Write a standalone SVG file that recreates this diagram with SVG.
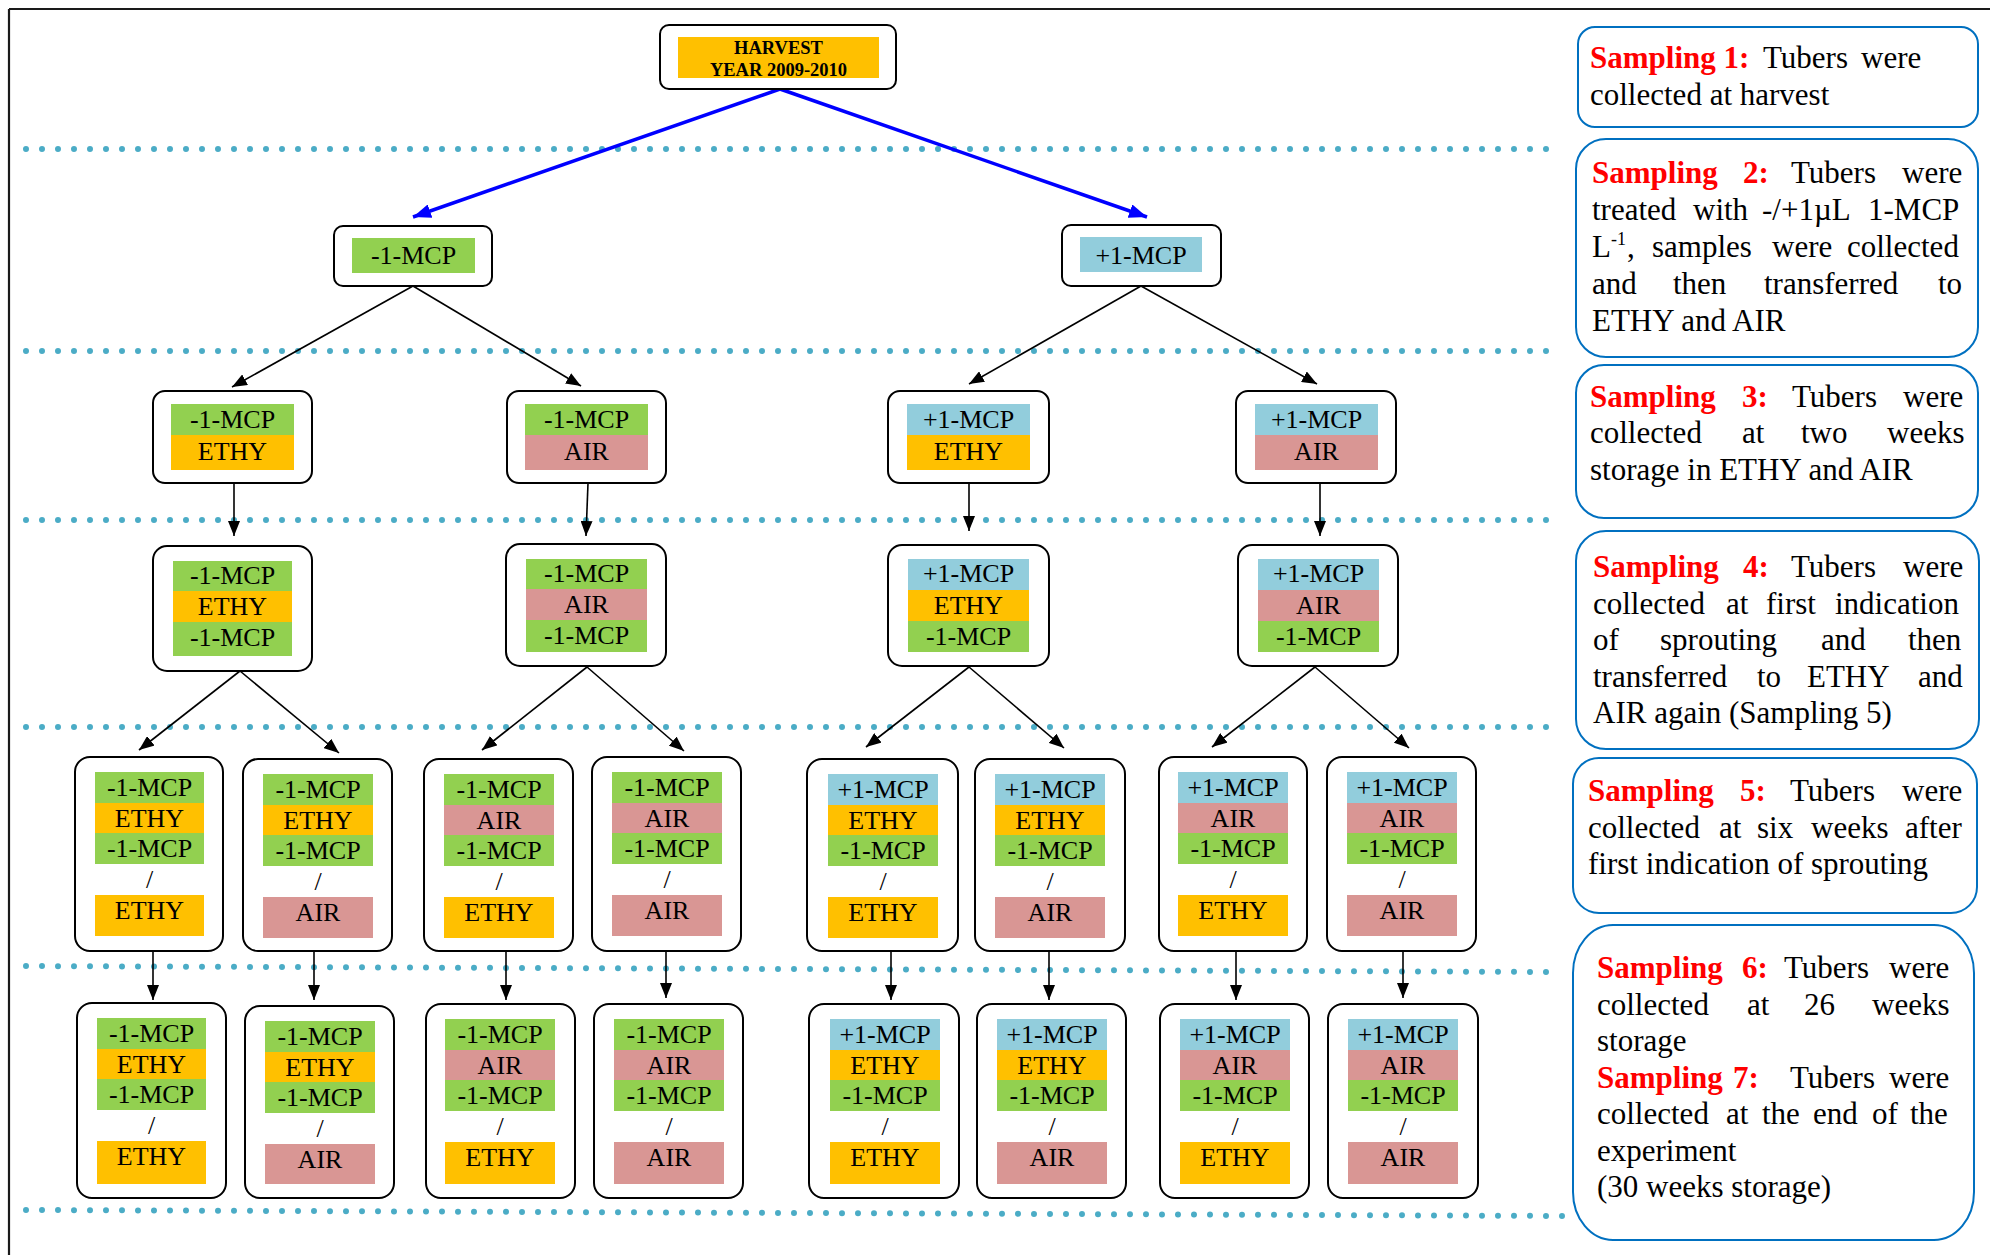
<svg xmlns="http://www.w3.org/2000/svg" width="1990" height="1255" viewBox="0 0 1990 1255">
<style>
.bx{fill:#fff;stroke:#000;stroke-width:2}
.g{fill:#92D050}.o{fill:#FFC000}.p{fill:#D99694}.b{fill:#92CDDC}
.t{font-family:"Liberation Serif","Times New Roman",serif;font-size:26px;text-anchor:middle;fill:#000}
.h{font-family:"Liberation Serif","Times New Roman",serif;font-size:18.5px;font-weight:bold;text-anchor:middle;fill:#000}
.dot{stroke:#4BACC6;stroke-width:6;stroke-linecap:round;stroke-dasharray:0 16;fill:none}
.ar{stroke:#000;stroke-width:1.6;fill:none;marker-end:url(#ah)}
.arb{stroke:#0000FF;stroke-width:3.5;fill:none;marker-end:url(#ahb)}
.sb{fill:#fff;stroke:#0070C0;stroke-width:2}
.s{font-family:"Liberation Serif","Times New Roman",serif;font-size:31px;fill:#000}
.r{fill:#FF0000;font-weight:bold}
</style>
<defs>
<marker id="ah" markerUnits="userSpaceOnUse" markerWidth="15" markerHeight="12" refX="15" refY="6" orient="auto"><path d="M0,0 L15,6 L0,12 z" fill="#000"/></marker>
<marker id="ahb" markerUnits="userSpaceOnUse" markerWidth="18" markerHeight="14" refX="18" refY="7" orient="auto"><path d="M0,0 L18,7 L0,14 z" fill="#0000FF"/></marker>
</defs>
<rect width="1990" height="1255" fill="#fff"/>
<g id="frame" stroke="#1a1a1a" stroke-width="2.2" fill="none">
<line x1="9" y1="9" x2="1990" y2="9"/>
<line x1="9" y1="9" x2="9" y2="1255"/>
</g>
<g id="dotted-lines">
<line class="dot" x1="26" y1="149" x2="1547" y2="149"/>
<line class="dot" x1="26" y1="351" x2="1547" y2="351"/>
<line class="dot" x1="26" y1="520" x2="1547" y2="520"/>
<line class="dot" x1="26" y1="727" x2="1547" y2="727"/>
<line class="dot" x1="26" y1="966" x2="1547" y2="972"/>
<line class="dot" x1="26" y1="1210" x2="1563" y2="1216"/>
</g>
<g id="connectors">
<line class="arb" x1="780" y1="89" x2="413" y2="217"/>
<line class="arb" x1="780" y1="89" x2="1147" y2="217"/>
<line class="ar" x1="413" y1="286" x2="232" y2="387"/>
<line class="ar" x1="413" y1="286" x2="581" y2="386"/>
<line class="ar" x1="1141" y1="286" x2="969" y2="384"/>
<line class="ar" x1="1141" y1="286" x2="1317" y2="384"/>
<line class="ar" x1="234" y1="483" x2="234" y2="536"/>
<line class="ar" x1="588" y1="483" x2="586" y2="536"/>
<line class="ar" x1="969" y1="483" x2="969" y2="531"/>
<line class="ar" x1="1320" y1="483" x2="1320" y2="536"/>
<line class="ar" x1="240" y1="671" x2="139" y2="750"/>
<line class="ar" x1="240" y1="671" x2="339" y2="753"/>
<line class="ar" x1="587" y1="667" x2="482" y2="750"/>
<line class="ar" x1="587" y1="667" x2="684" y2="751"/>
<line class="ar" x1="969" y1="667" x2="866" y2="747"/>
<line class="ar" x1="969" y1="667" x2="1064" y2="748"/>
<line class="ar" x1="1315" y1="667" x2="1212" y2="747"/>
<line class="ar" x1="1315" y1="667" x2="1409" y2="748"/>
<line class="ar" x1="153" y1="951" x2="153" y2="1000"/>
<line class="ar" x1="314" y1="951" x2="314" y2="1000"/>
<line class="ar" x1="506" y1="951" x2="506" y2="1000"/>
<line class="ar" x1="666" y1="951" x2="666" y2="998"/>
<line class="ar" x1="891" y1="951" x2="891" y2="1000"/>
<line class="ar" x1="1049" y1="951" x2="1049" y2="1000"/>
<line class="ar" x1="1236" y1="951" x2="1236" y2="1000"/>
<line class="ar" x1="1403" y1="951" x2="1403" y2="998"/>
</g>
<g id="n-harvest">
<rect class="bx" x="660" y="25" width="236" height="64" rx="9"/>
<rect class="o" x="678" y="37" width="201" height="41"/>
<text class="h" x="778.5" y="54">HARVEST</text>
<text class="h" x="778.5" y="76">YEAR 2009-2010</text>
</g>
<g id="n-minus">
<rect class="bx" x="334" y="226" width="158" height="60" rx="9"/>
<rect class="g" x="352" y="238" width="123" height="35"/>
<text class="t" x="413.5" y="264">-1-MCP</text>
</g>
<g id="n-plus">
<rect class="bx" x="1062" y="225" width="159" height="61" rx="9"/>
<rect class="b" x="1080" y="237" width="122" height="35"/>
<text class="t" x="1141" y="264">+1-MCP</text>
</g>
<g id="n2-a">
<rect class="bx" x="153" y="391" width="159" height="92" rx="12"/>
<rect class="g" x="171" y="404" width="123" height="31"/><rect class="o" x="171" y="435" width="123" height="35"/>
<text class="t" x="232.5" y="428">-1-MCP</text><text class="t" x="232.5" y="460">ETHY</text>
</g>
<g id="n2-b">
<rect class="bx" x="507" y="391" width="159" height="92" rx="12"/>
<rect class="g" x="525" y="404" width="123" height="31"/><rect class="p" x="525" y="435" width="123" height="35"/>
<text class="t" x="586.5" y="428">-1-MCP</text><text class="t" x="586.5" y="460">AIR</text>
</g>
<g id="n2-c">
<rect class="bx" x="888" y="391" width="161" height="92" rx="12"/>
<rect class="b" x="907" y="404" width="123" height="31"/><rect class="o" x="907" y="435" width="123" height="35"/>
<text class="t" x="968.5" y="428">+1-MCP</text><text class="t" x="968.5" y="460">ETHY</text>
</g>
<g id="n2-d">
<rect class="bx" x="1236" y="391" width="160" height="92" rx="12"/>
<rect class="b" x="1255" y="404" width="123" height="31"/><rect class="p" x="1255" y="435" width="123" height="35"/>
<text class="t" x="1316.5" y="428">+1-MCP</text><text class="t" x="1316.5" y="460">AIR</text>
</g>
<g id="n3-a">
<rect class="bx" x="153" y="546" width="159" height="125" rx="14"/>
<rect class="g" x="173" y="561" width="119" height="30"/><rect class="o" x="173" y="591" width="119" height="31"/><rect class="g" x="173" y="622" width="119" height="34"/>
<text class="t" x="232.5" y="584">-1-MCP</text><text class="t" x="232.5" y="615">ETHY</text><text class="t" x="232.5" y="646">-1-MCP</text>
</g>
<g id="n3-b">
<rect class="bx" x="506" y="544" width="160" height="122" rx="14"/>
<rect class="g" x="526" y="559" width="121" height="30"/><rect class="p" x="526" y="589" width="121" height="31"/><rect class="g" x="526" y="620" width="121" height="32"/>
<text class="t" x="586.5" y="582">-1-MCP</text><text class="t" x="586.5" y="613">AIR</text><text class="t" x="586.5" y="644">-1-MCP</text>
</g>
<g id="n3-c">
<rect class="bx" x="888" y="545" width="161" height="121" rx="14"/>
<rect class="b" x="908" y="559" width="121" height="31"/><rect class="o" x="908" y="590" width="121" height="31"/><rect class="g" x="908" y="621" width="121" height="31"/>
<text class="t" x="968.5" y="582">+1-MCP</text><text class="t" x="968.5" y="614">ETHY</text><text class="t" x="968.5" y="645">-1-MCP</text>
</g>
<g id="n3-d">
<rect class="bx" x="1238" y="545" width="160" height="121" rx="14"/>
<rect class="b" x="1258" y="559" width="121" height="31"/><rect class="p" x="1258" y="590" width="121" height="31"/><rect class="g" x="1258" y="621" width="121" height="31"/>
<text class="t" x="1318.5" y="582">+1-MCP</text><text class="t" x="1318.5" y="614">AIR</text><text class="t" x="1318.5" y="645">-1-MCP</text>
</g>
<g id="n4-1">
<rect class="bx" x="75" y="757" width="148" height="194" rx="15"/>
<rect class="g" x="95" y="772" width="109" height="31"/><rect class="o" x="95" y="803" width="109" height="30"/><rect class="g" x="95" y="833" width="109" height="31"/><rect class="o" x="95" y="895" width="109" height="41"/>
<text class="t" x="149.5" y="796">-1-MCP</text><text class="t" x="149.5" y="827">ETHY</text><text class="t" x="149.5" y="857">-1-MCP</text><text class="t" x="149.5" y="888">/</text><text class="t" x="149.5" y="919">ETHY</text>
</g>
<g id="n4-2">
<rect class="bx" x="243" y="759" width="149" height="192" rx="15"/>
<rect class="g" x="263" y="774" width="110" height="31"/><rect class="o" x="263" y="805" width="110" height="30"/><rect class="g" x="263" y="835" width="110" height="31"/><rect class="p" x="263" y="897" width="110" height="41"/>
<text class="t" x="318" y="798">-1-MCP</text><text class="t" x="318" y="829">ETHY</text><text class="t" x="318" y="859">-1-MCP</text><text class="t" x="318" y="890">/</text><text class="t" x="318" y="921">AIR</text>
</g>
<g id="n4-3">
<rect class="bx" x="424" y="759" width="149" height="192" rx="15"/>
<rect class="g" x="444" y="774" width="110" height="31"/><rect class="p" x="444" y="805" width="110" height="30"/><rect class="g" x="444" y="835" width="110" height="31"/><rect class="o" x="444" y="897" width="110" height="41"/>
<text class="t" x="499" y="798">-1-MCP</text><text class="t" x="499" y="829">AIR</text><text class="t" x="499" y="859">-1-MCP</text><text class="t" x="499" y="890">/</text><text class="t" x="499" y="921">ETHY</text>
</g>
<g id="n4-4">
<rect class="bx" x="592" y="757" width="149" height="194" rx="15"/>
<rect class="g" x="612" y="772" width="110" height="31"/><rect class="p" x="612" y="803" width="110" height="30"/><rect class="g" x="612" y="833" width="110" height="31"/><rect class="p" x="612" y="895" width="110" height="41"/>
<text class="t" x="667" y="796">-1-MCP</text><text class="t" x="667" y="827">AIR</text><text class="t" x="667" y="857">-1-MCP</text><text class="t" x="667" y="888">/</text><text class="t" x="667" y="919">AIR</text>
</g>
<g id="n4-5">
<rect class="bx" x="807" y="759" width="151" height="192" rx="15"/>
<rect class="b" x="828" y="774" width="110" height="31"/><rect class="o" x="828" y="805" width="110" height="30"/><rect class="g" x="828" y="835" width="110" height="31"/><rect class="o" x="828" y="897" width="110" height="41"/>
<text class="t" x="883" y="798">+1-MCP</text><text class="t" x="883" y="829">ETHY</text><text class="t" x="883" y="859">-1-MCP</text><text class="t" x="883" y="890">/</text><text class="t" x="883" y="921">ETHY</text>
</g>
<g id="n4-6">
<rect class="bx" x="975" y="759" width="150" height="192" rx="15"/>
<rect class="b" x="995" y="774" width="110" height="31"/><rect class="o" x="995" y="805" width="110" height="30"/><rect class="g" x="995" y="835" width="110" height="31"/><rect class="p" x="995" y="897" width="110" height="41"/>
<text class="t" x="1050" y="798">+1-MCP</text><text class="t" x="1050" y="829">ETHY</text><text class="t" x="1050" y="859">-1-MCP</text><text class="t" x="1050" y="890">/</text><text class="t" x="1050" y="921">AIR</text>
</g>
<g id="n4-7">
<rect class="bx" x="1159" y="757" width="148" height="194" rx="15"/>
<rect class="b" x="1178" y="772" width="110" height="31"/><rect class="p" x="1178" y="803" width="110" height="30"/><rect class="g" x="1178" y="833" width="110" height="31"/><rect class="o" x="1178" y="895" width="110" height="41"/>
<text class="t" x="1233" y="796">+1-MCP</text><text class="t" x="1233" y="827">AIR</text><text class="t" x="1233" y="857">-1-MCP</text><text class="t" x="1233" y="888">/</text><text class="t" x="1233" y="919">ETHY</text>
</g>
<g id="n4-8">
<rect class="bx" x="1327" y="757" width="149" height="194" rx="15"/>
<rect class="b" x="1347" y="772" width="110" height="31"/><rect class="p" x="1347" y="803" width="110" height="30"/><rect class="g" x="1347" y="833" width="110" height="31"/><rect class="p" x="1347" y="895" width="110" height="41"/>
<text class="t" x="1402" y="796">+1-MCP</text><text class="t" x="1402" y="827">AIR</text><text class="t" x="1402" y="857">-1-MCP</text><text class="t" x="1402" y="888">/</text><text class="t" x="1402" y="919">AIR</text>
</g>
<g id="n5-1">
<rect class="bx" x="77" y="1003" width="149" height="195" rx="15"/>
<rect class="g" x="97" y="1018" width="109" height="31"/><rect class="o" x="97" y="1049" width="109" height="30"/><rect class="g" x="97" y="1079" width="109" height="31"/><rect class="o" x="97" y="1141" width="109" height="43"/>
<text class="t" x="151.5" y="1042">-1-MCP</text><text class="t" x="151.5" y="1073">ETHY</text><text class="t" x="151.5" y="1103">-1-MCP</text><text class="t" x="151.5" y="1134">/</text><text class="t" x="151.5" y="1165">ETHY</text>
</g>
<g id="n5-2">
<rect class="bx" x="245" y="1006" width="149" height="192" rx="15"/>
<rect class="g" x="265" y="1021" width="110" height="31"/><rect class="o" x="265" y="1052" width="110" height="30"/><rect class="g" x="265" y="1082" width="110" height="31"/><rect class="p" x="265" y="1144" width="110" height="40"/>
<text class="t" x="320" y="1045">-1-MCP</text><text class="t" x="320" y="1076">ETHY</text><text class="t" x="320" y="1106">-1-MCP</text><text class="t" x="320" y="1137">/</text><text class="t" x="320" y="1168">AIR</text>
</g>
<g id="n5-3">
<rect class="bx" x="426" y="1004" width="149" height="194" rx="15"/>
<rect class="g" x="445" y="1019" width="110" height="31"/><rect class="p" x="445" y="1050" width="110" height="30"/><rect class="g" x="445" y="1080" width="110" height="31"/><rect class="o" x="445" y="1142" width="110" height="42"/>
<text class="t" x="500" y="1043">-1-MCP</text><text class="t" x="500" y="1074">AIR</text><text class="t" x="500" y="1104">-1-MCP</text><text class="t" x="500" y="1135">/</text><text class="t" x="500" y="1166">ETHY</text>
</g>
<g id="n5-4">
<rect class="bx" x="594" y="1004" width="149" height="194" rx="15"/>
<rect class="g" x="614" y="1019" width="110" height="31"/><rect class="p" x="614" y="1050" width="110" height="30"/><rect class="g" x="614" y="1080" width="110" height="31"/><rect class="p" x="614" y="1142" width="110" height="42"/>
<text class="t" x="669" y="1043">-1-MCP</text><text class="t" x="669" y="1074">AIR</text><text class="t" x="669" y="1104">-1-MCP</text><text class="t" x="669" y="1135">/</text><text class="t" x="669" y="1166">AIR</text>
</g>
<g id="n5-5">
<rect class="bx" x="809" y="1004" width="150" height="194" rx="15"/>
<rect class="b" x="830" y="1019" width="110" height="31"/><rect class="o" x="830" y="1050" width="110" height="30"/><rect class="g" x="830" y="1080" width="110" height="31"/><rect class="o" x="830" y="1142" width="110" height="42"/>
<text class="t" x="885" y="1043">+1-MCP</text><text class="t" x="885" y="1074">ETHY</text><text class="t" x="885" y="1104">-1-MCP</text><text class="t" x="885" y="1135">/</text><text class="t" x="885" y="1166">ETHY</text>
</g>
<g id="n5-6">
<rect class="bx" x="977" y="1004" width="149" height="194" rx="15"/>
<rect class="b" x="997" y="1019" width="110" height="31"/><rect class="o" x="997" y="1050" width="110" height="30"/><rect class="g" x="997" y="1080" width="110" height="31"/><rect class="p" x="997" y="1142" width="110" height="42"/>
<text class="t" x="1052" y="1043">+1-MCP</text><text class="t" x="1052" y="1074">ETHY</text><text class="t" x="1052" y="1104">-1-MCP</text><text class="t" x="1052" y="1135">/</text><text class="t" x="1052" y="1166">AIR</text>
</g>
<g id="n5-7">
<rect class="bx" x="1160" y="1004" width="149" height="194" rx="15"/>
<rect class="b" x="1180" y="1019" width="110" height="31"/><rect class="p" x="1180" y="1050" width="110" height="30"/><rect class="g" x="1180" y="1080" width="110" height="31"/><rect class="o" x="1180" y="1142" width="110" height="42"/>
<text class="t" x="1235" y="1043">+1-MCP</text><text class="t" x="1235" y="1074">AIR</text><text class="t" x="1235" y="1104">-1-MCP</text><text class="t" x="1235" y="1135">/</text><text class="t" x="1235" y="1166">ETHY</text>
</g>
<g id="n5-8">
<rect class="bx" x="1328" y="1004" width="150" height="194" rx="15"/>
<rect class="b" x="1348" y="1019" width="110" height="31"/><rect class="p" x="1348" y="1050" width="110" height="30"/><rect class="g" x="1348" y="1080" width="110" height="31"/><rect class="p" x="1348" y="1142" width="110" height="42"/>
<text class="t" x="1403" y="1043">+1-MCP</text><text class="t" x="1403" y="1074">AIR</text><text class="t" x="1403" y="1104">-1-MCP</text><text class="t" x="1403" y="1135">/</text><text class="t" x="1403" y="1166">AIR</text>
</g>
<g id="s1">
<rect class="sb" x="1578" y="27" width="400" height="100" rx="17"/>
<text class="s" y="68"><tspan class="r" x="1590">Sampling 1:</tspan><tspan x="1763">Tubers</tspan><tspan x="1861">were</tspan></text>
<text class="s" x="1590" y="105">collected at harvest</text>
</g>
<g id="s2">
<rect class="sb" x="1576" y="139" width="402" height="218" rx="30"/>
<text class="s" y="183"><tspan class="r" x="1592">Sampling</tspan><tspan class="r" x="1743">2:</tspan><tspan x="1791">Tubers</tspan><tspan x="1902">were</tspan></text>
<text class="s" y="220"><tspan x="1592">treated</tspan><tspan x="1693">with</tspan><tspan x="1762">-/+1µL</tspan><tspan x="1868">1-MCP</tspan></text>
<text class="s" y="257"><tspan x="1592">L</tspan><tspan x="1611" y="245" font-size="18">-1</tspan><tspan x="1627" y="257">,</tspan><tspan x="1652">samples</tspan><tspan x="1772">were</tspan><tspan x="1847">collected</tspan></text>
<text class="s" y="294"><tspan x="1592">and</tspan><tspan x="1673">then</tspan><tspan x="1764">transferred</tspan><tspan x="1938">to</tspan></text>
<text class="s" x="1592" y="331">ETHY and AIR</text>
</g>
<g id="s3">
<rect class="sb" x="1576" y="365" width="402" height="153" rx="28"/>
<text class="s" y="407"><tspan class="r" x="1590">Sampling</tspan><tspan class="r" x="1742">3:</tspan><tspan x="1792">Tubers</tspan><tspan x="1903">were</tspan></text>
<text class="s" y="443"><tspan x="1590">collected</tspan><tspan x="1742">at</tspan><tspan x="1801">two</tspan><tspan x="1887">weeks</tspan></text>
<text class="s" x="1590" y="480">storage in ETHY and AIR</text>
</g>
<g id="s4">
<rect class="sb" x="1576" y="531" width="403" height="218" rx="30"/>
<text class="s" y="577"><tspan class="r" x="1593">Sampling</tspan><tspan class="r" x="1743">4:</tspan><tspan x="1791">Tubers</tspan><tspan x="1903">were</tspan></text>
<text class="s" y="613.5"><tspan x="1593">collected</tspan><tspan x="1726">at</tspan><tspan x="1766">first</tspan><tspan x="1835">indication</tspan></text>
<text class="s" y="650"><tspan x="1593">of</tspan><tspan x="1660">sprouting</tspan><tspan x="1821">and</tspan><tspan x="1908">then</tspan></text>
<text class="s" y="686.5"><tspan x="1593">transferred</tspan><tspan x="1757">to</tspan><tspan x="1807">ETHY</tspan><tspan x="1918">and</tspan></text>
<text class="s" x="1593" y="723">AIR again (Sampling 5)</text>
</g>
<g id="s5">
<rect class="sb" x="1573" y="758" width="404" height="155" rx="26"/>
<text class="s" y="801"><tspan class="r" x="1588">Sampling</tspan><tspan class="r" x="1740">5:</tspan><tspan x="1790">Tubers</tspan><tspan x="1902">were</tspan></text>
<text class="s" y="838"><tspan x="1588">collected</tspan><tspan x="1719">at</tspan><tspan x="1757">six</tspan><tspan x="1811">weeks</tspan><tspan x="1905">after</tspan></text>
<text class="s" x="1588" y="874">first indication of sprouting</text>
</g>
<g id="s6">
<rect class="sb" x="1573" y="925" width="401" height="315" rx="40" ry="48"/>
<text class="s" y="978"><tspan class="r" x="1597">Sampling</tspan><tspan class="r" x="1742">6:</tspan><tspan x="1784">Tubers</tspan><tspan x="1889">were</tspan></text>
<text class="s" y="1014.5"><tspan x="1597">collected</tspan><tspan x="1747">at</tspan><tspan x="1804">26</tspan><tspan x="1872">weeks</tspan></text>
<text class="s" x="1597" y="1051">storage</text>
<text class="s" y="1087.5"><tspan class="r" x="1597">Sampling</tspan><tspan class="r" x="1733">7:</tspan><tspan x="1790">Tubers</tspan><tspan x="1889">were</tspan></text>
<text class="s" y="1124"><tspan x="1597">collected</tspan><tspan x="1726">at</tspan><tspan x="1762">the</tspan><tspan x="1813">end</tspan><tspan x="1872">of</tspan><tspan x="1910">the</tspan></text>
<text class="s" x="1597" y="1160.5">experiment</text>
<text class="s" x="1597" y="1197">(30 weeks storage)</text>
</g>
</svg>
